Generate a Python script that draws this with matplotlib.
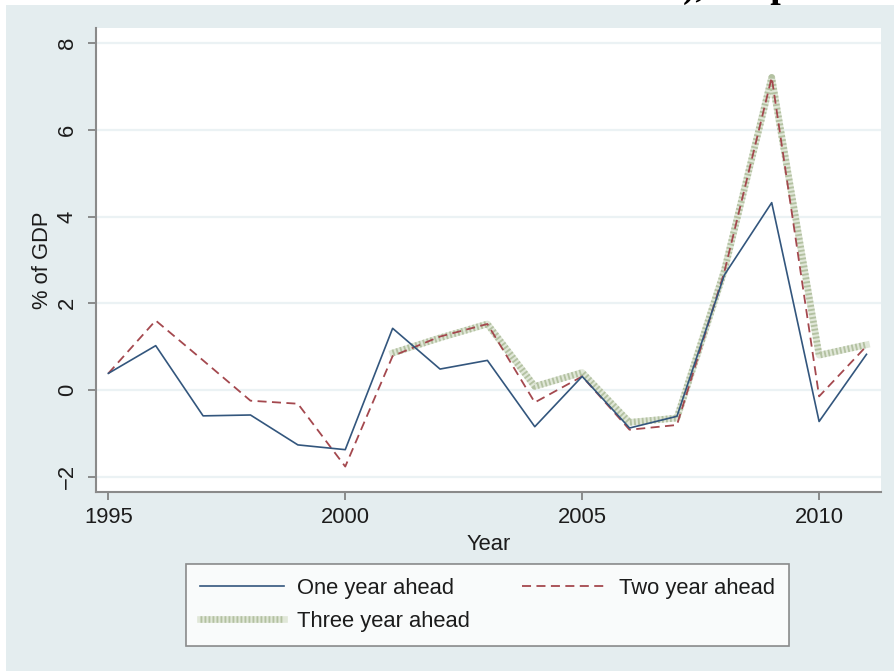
import matplotlib

matplotlib.use("Agg")

import matplotlib.pyplot as plt
from matplotlib.patches import Rectangle

# forecast errors, % of GDP
years = list(range(1995, 2012))
one_year = [0.38, 1.02, -0.60, -0.58, -1.27, -1.38, 1.42, 0.48, 0.68,
            -0.85, 0.31, -0.88, -0.61, 2.65, 4.32, -0.73, 0.82]
two_year = [0.38, 1.60, 0.68, -0.25, -0.32, -1.77, 0.78, 1.23, 1.52,
            -0.29, 0.31, -0.92, -0.81, 2.72, 7.21, -0.15, 1.01]
three_years = list(range(2001, 2012))
three_year = [0.85, 1.20, 1.52, 0.08, 0.40, -0.75, -0.65, 2.75, 7.21, 0.80, 1.04]

y_ticks = [-2, 0, 2, 4, 6, 8]
x_ticks = [1995, 2000, 2005, 2010]

W, H = 894, 671
BG = "#e4edef"
TXT = "#1c1c1c"
FS = 15.8

plt.rcParams["font.family"] = ["Liberation Sans", "DejaVu Sans"]

fig = plt.figure(figsize=(W / 100, H / 100), dpi=100)
fig.patch.set_facecolor("white")
fig.patches.append(Rectangle((6 / W, 0), 1 - 6 / W, 1 - 5 / H, transform=fig.transFigure,
                             facecolor=BG, edgecolor="none", zorder=-10))
# caption from the page above, cut off at the top edge
fig.text(683 / W, 1 + 3 / H, "), Help", ha="left", va="baseline", fontsize=27,
         fontweight="bold", family=["Liberation Serif", "DejaVu Serif"], color="black")

ax = fig.add_axes([96 / W, 1 - 491.7 / H, (880.7 - 96) / W, (491.7 - 28) / H])
ax.set_facecolor("white")
ax.set_xlim(1994.74, 2011.30)
ax.set_ylim(-2.35, 8.35)

for v in y_ticks:
    ax.axhline(v, color="#ebf2f4", lw=1.6, zorder=1)

# three year ahead: pale thick band with fine cross stripes
green_base, = ax.plot(three_years, three_year, color="#e0e7d8", lw=4.8, zorder=2,
                      solid_joinstyle="round")
green_stripe, = ax.plot(three_years, three_year, color="#b3c1a1", lw=4.8, zorder=2.1,
                        linestyle=(0, (0.28, 0.32)), dash_capstyle="butt",
                        dash_joinstyle="round")
red_line, = ax.plot(years, two_year, color="#a4484e", lw=1.3, zorder=3,
                    linestyle=(0, (5.0, 3.0)), dash_capstyle="butt")
blue_line, = ax.plot(years, one_year, color="#33567d", lw=1.2, zorder=4)

for side in ("top", "right"):
    ax.spines[side].set_visible(False)
for side in ("left", "bottom"):
    ax.spines[side].set_color("#8a8a8a")
    ax.spines[side].set_linewidth(1.5)

ax.set_yticks(y_ticks)
ax.set_xticks(x_ticks)
ax.tick_params(axis="both", direction="out", length=6, width=1.2, color="#7a7a7a",
               labelsize=FS, labelcolor=TXT)
ax.tick_params(axis="x", pad=5)
ax.tick_params(axis="y", pad=7)
for lbl in ax.get_yticklabels():
    lbl.set_rotation(90)
    lbl.set_va("center")

ax.set_xlabel("Year", fontsize=FS, color=TXT, labelpad=4)
ax.set_ylabel("% of GDP", fontsize=FS, color=TXT, labelpad=3)

# legend fills column-wise: One / Three in the first column, Two in the second
leg = fig.legend(
    [blue_line, (green_base, green_stripe), red_line],
    ["One year ahead", "Three year ahead", "Two year ahead"],
    loc="center", bbox_to_anchor=(487.5 / W, 1 - 605 / H), ncol=2,
    fontsize=FS, frameon=True, fancybox=False, edgecolor="#707070",
    handlelength=3.8, handletextpad=0.6, columnspacing=2.4,
    labelspacing=0.55, borderpad=0.65,
)
leg.get_frame().set_linewidth(1.2)
for t in leg.get_texts():
    t.set_color(TXT)

fig.savefig("out.png", dpi=100)
